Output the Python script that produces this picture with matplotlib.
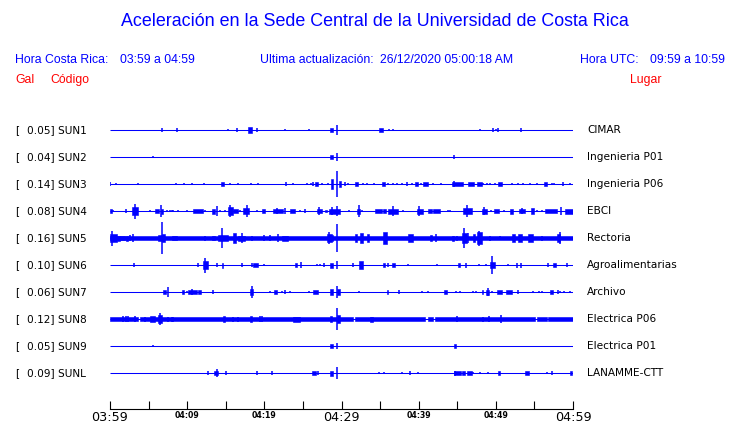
import matplotlib
matplotlib.use("Agg")
import matplotlib.pyplot as plt

# ---------------- data ----------------
codes = ["SUN1", "SUN2", "SUN3", "SUN4", "SUN5", "SUN6", "SUN7", "SUN8", "SUN9", "SUNL"]
gal = [0.05, 0.04, 0.14, 0.08, 0.16, 0.10, 0.06, 0.12, 0.05, 0.09]
places = ["CIMAR", "Ingenieria P01", "Ingenieria P06", "EBCI", "Rectoria",
          "Agroalimentarias", "Archivo", "Electrica P06", "Electrica P01", "LANAMME-CTT"]
tick_minutes = list(range(0, 61, 5))
tick_labels = ["03:59", "", "04:09", "", "04:19", "", "04:29", "", "04:39", "", "04:49", "", "04:59"]

# events: (start minute after 03:59, end minute, half amplitude); start == end -> single spike
sun1_events = [(6.78, 6.78, 1.3), (8.72, 8.72, 1.3), (15.25, 15.25, 0.8), (16.50, 16.50, 1.5),
               (17.92, 18.36, 2.5), (19.01, 19.01, 1.5), (22.72, 22.72, 1), (25.83, 25.83, 1),
               (28.51, 28.94, 1.5), (29.38, 29.38, 4), (34.86, 35.42, 1.5), (36.20, 36.20, 1),
               (36.71, 36.71, 1), (47.99, 47.99, 0.8), (49.67, 49.67, 1.3), (49.98, 49.98, 1),
               (50.32, 50.32, 1.5), (53.26, 53.26, 1.5)]
sun2_events = [(5.61, 5.61, 0.8), (28.51, 28.86, 1.3), (29.38, 29.38, 3), (44.62, 44.62, 1.3)]
sun3_events = [(0.0, 0.0, 1.5), (0.74, 0.74, 1), (3.67, 3.67, 0.8), (8.59, 8.59, 1), (9.55, 9.55, 1),
               (10.67, 10.67, 1), (12.22, 12.22, 1), (14.38, 14.73, 1.5), (15.59, 15.59, 1),
               (16.63, 16.63, 1), (18.27, 18.27, 1), (19.14, 19.14, 1), (22.81, 22.81, 1.5),
               (23.75, 23.75, 1), (25.49, 25.49, 1), (26.01, 26.01, 1), (26.27, 26.27, 1.5),
               (26.57, 26.99, 1.3), (27.43, 27.43, 1), (28.29, 28.29, 0.8), (28.60, 28.86, 4),
               (29.38, 29.38, 10.5), (29.64, 29.90, 2.5), (30.45, 30.45, 1.5), (30.88, 30.88, 1),
               (31.75, 32.18, 1.5), (32.75, 32.75, 1), (33.27, 33.27, 1), (34.21, 34.21, 1),
               (35.25, 35.68, 1.5), (36.07, 36.07, 1), (36.64, 36.64, 1), (37.15, 37.15, 1),
               (37.80, 37.80, 1), (38.45, 38.45, 1.5), (39.10, 39.10, 1), (39.53, 39.95, 1.5),
               (40.30, 40.30, 1), (40.60, 41.17, 1.5), (41.90, 41.90, 1), (42.90, 42.90, 1),
               (44.28, 45.78, 1.5), (44.62, 44.62, 2.5), (46.43, 47.21, 1.5), (47.52, 48.17, 1.5),
               (48.38, 48.38, 1), (48.82, 48.82, 1), (49.24, 49.24, 1), (49.89, 49.89, 1),
               (50.24, 50.84, 1.5), (52.06, 52.06, 0.8), (52.91, 52.91, 1), (53.56, 53.56, 1),
               (54.43, 54.43, 1), (55.30, 55.30, 1), (56.28, 56.59, 1.5), (57.24, 57.24, 1),
               (57.58, 57.58, 1), (58.74, 58.74, 1.5), (59.65, 59.65, 1)]
sun4_events = [(0.0, 0.22, 1.5), (0.43, 0.43, 1), (2.03, 2.03, 1.3), (2.89, 3.59, 3), (3.24, 3.24, 6),
               (5.18, 5.18, 1), (5.83, 6.35, 1.5), (6.61, 6.61, 5), (6.61, 6.91, 2), (7.35, 7.35, 1),
               (7.78, 7.78, 1), (8.00, 8.00, 1), (8.20, 8.20, 1), (8.77, 8.77, 1), (9.94, 9.94, 1),
               (10.80, 12.09, 1.5), (12.31, 12.31, 1), (13.18, 13.61, 2), (13.83, 13.83, 4),
               (14.26, 14.26, 1), (14.90, 14.90, 1), (15.25, 15.98, 3), (15.55, 15.55, 5),
               (15.98, 16.63, 1.5), (16.85, 16.85, 1), (17.27, 18.01, 2.5), (17.71, 17.71, 5),
               (19.01, 19.01, 1), (19.66, 20.09, 1.5), (21.16, 22.46, 1.5), (21.60, 21.60, 2.5),
               (22.68, 22.68, 2.5), (23.33, 23.97, 1.5), (24.62, 24.62, 1), (25.27, 25.27, 1.5),
               (26.79, 27.43, 1.5), (27.08, 27.08, 3), (27.86, 28.08, 1), (28.42, 29.81, 2),
               (28.77, 28.77, 3), (29.38, 29.38, 4), (31.01, 31.01, 1), (31.97, 32.40, 2),
               (32.31, 32.31, 5), (32.62, 32.62, 1), (34.34, 35.21, 1.5), (35.42, 35.77, 1.5),
               (36.07, 37.36, 2), (36.71, 36.71, 4), (38.01, 38.01, 1), (39.75, 40.60, 2),
               (40.04, 40.04, 4), (41.25, 41.77, 1.5), (41.90, 42.77, 1.5), (43.84, 43.84, 1),
               (44.06, 44.06, 1), (45.78, 46.87, 2.5), (46.23, 46.23, 5), (48.17, 48.82, 2),
               (48.47, 48.47, 3), (49.37, 49.37, 1), (49.80, 50.41, 1.5), (51.10, 51.10, 1),
               (51.84, 52.27, 2), (53.00, 53.78, 1.5), (53.39, 53.39, 2.5), (54.56, 54.91, 2.5),
               (55.30, 55.30, 1), (55.94, 55.94, 1), (56.37, 57.89, 1.5), (58.45, 58.45, 3),
               (58.97, 60.0, 2)]
sun5_events = [(0.0, 60.0, 1.8), (0.0, 0.87, 3.5), (0.30, 0.30, 6), (0.87, 1.30, 2), (1.30, 1.94, 1.5),
               (2.03, 2.37, 2), (2.59, 2.59, 2.5), (3.02, 3.02, 3.5), (6.26, 6.70, 2.5),
               (6.78, 6.78, 12.5), (6.78, 7.13, 3), (8.00, 8.64, 1.5), (12.31, 12.31, 2),
               (13.18, 13.61, 1.5), (14.03, 14.47, 2.5), (14.47, 14.47, 8), (14.55, 15.25, 2.5),
               (15.98, 16.28, 4), (16.59, 17.50, 2), (17.07, 17.07, 4), (18.36, 18.36, 2),
               (20.00, 20.00, 2.5), (20.70, 20.70, 2.5), (21.81, 21.81, 3.5), (22.25, 23.11, 2),
               (28.08, 28.73, 3.5), (28.38, 28.38, 5), (28.73, 28.90, 2.5), (29.38, 29.38, 11),
               (31.75, 32.05, 3), (32.40, 32.83, 4), (33.27, 33.60, 3.5), (35.42, 35.86, 4.5),
               (38.66, 39.23, 3.5), (41.47, 41.69, 2.5), (42.21, 42.21, 3.5), (44.28, 44.62, 2),
               (44.93, 44.93, 2), (45.58, 46.23, 4), (45.91, 45.91, 8), (46.40, 46.40, 4),
               (47.08, 47.30, 3), (47.52, 48.17, 4.5), (47.82, 47.82, 6), (49.28, 49.28, 2),
               (50.54, 50.54, 1.5), (52.06, 52.49, 3.5), (52.91, 53.35, 3), (54.21, 54.86, 3.5),
               (55.94, 55.94, 2), (57.89, 58.32, 3), (58.32, 58.32, 5)]
sun6_events = [(3.11, 3.11, 1.5), (11.37, 11.37, 1.5), (12.09, 12.74, 3), (12.31, 12.31, 6),
               (13.83, 13.83, 1.5), (14.47, 14.68, 2), (17.14, 17.14, 1.3), (18.36, 18.36, 1.5),
               (18.57, 19.14, 1.5), (20.00, 20.00, 1), (23.97, 24.19, 1.5), (24.71, 24.71, 2.5),
               (26.79, 26.79, 1), (27.21, 27.21, 1), (27.73, 27.73, 1.5), (28.51, 28.94, 2),
               (29.38, 29.38, 3.5), (31.53, 31.53, 1.5), (32.31, 32.75, 3), (35.42, 35.64, 1.3),
               (36.07, 36.07, 1.5), (36.51, 36.93, 1.3), (38.66, 38.66, 1), (42.34, 42.34, 1),
               (45.14, 45.36, 1.5), (46.10, 46.10, 2), (47.82, 47.82, 1), (48.69, 48.69, 1),
               (49.24, 49.89, 2.5), (49.46, 49.46, 7), (51.62, 51.62, 1), (52.70, 52.70, 2),
               (53.26, 53.26, 2), (56.72, 56.72, 1.5), (57.45, 57.76, 1.5), (59.18, 59.18, 1.5)]
sun7_events = [(6.91, 7.22, 1.5), (7.48, 7.48, 4), (9.29, 9.63, 1.5), (9.94, 9.94, 1),
               (10.15, 11.24, 1.5), (10.67, 10.67, 2.5), (11.44, 11.75, 1.5), (13.31, 13.31, 1.5),
               (18.14, 18.57, 2.5), (18.36, 18.36, 4.5), (20.73, 20.73, 1), (21.25, 21.60, 1.5),
               (22.25, 22.25, 1), (22.68, 22.68, 1.5), (23.33, 23.33, 1), (25.83, 25.83, 1),
               (26.35, 26.99, 1.5), (28.51, 28.94, 2.5), (29.38, 29.38, 5), (29.38, 29.81, 2.5),
               (32.31, 32.31, 1), (35.86, 36.07, 1.5), (37.49, 37.49, 1.5), (40.39, 40.39, 1),
               (41.25, 41.25, 1), (43.32, 43.63, 1.5), (44.80, 44.80, 1), (45.36, 45.36, 1),
               (47.08, 47.08, 1), (47.39, 47.39, 1), (48.17, 48.38, 1.5), (48.69, 49.12, 2),
               (48.95, 48.95, 3), (49.54, 49.54, 1), (50.11, 50.84, 1.5), (51.28, 52.14, 1.5),
               (52.83, 52.83, 1.5), (54.86, 54.86, 1), (55.59, 55.59, 1), (55.94, 55.94, 1),
               (57.02, 57.45, 1.5), (58.02, 58.02, 1.5), (58.32, 58.32, 1), (58.87, 58.87, 1),
               (59.61, 59.61, 1)]
sun8_events = [(0.0, 3.6, 1.7), (3.9, 31.5, 1.7), (31.75, 40.82, 1.7), (41.25, 41.9, 1.7),
               (42.12, 55.08, 1.7), (55.3, 56.59, 1.7), (56.8, 60.0, 1.7),
               (1.72, 1.72, 2.5), (2.03, 2.03, 2.5), (2.33, 2.33, 2.5), (3.24, 3.24, 2.5),
               (4.54, 4.54, 2), (5.18, 5.83, 2.5), (6.26, 6.78, 3.5), (6.52, 6.52, 4.5),
               (7.56, 7.56, 2), (8.00, 8.00, 2), (8.20, 8.20, 2), (14.68, 14.90, 2.5),
               (15.98, 15.98, 2), (16.63, 16.63, 2), (18.14, 18.44, 2.5), (19.44, 19.44, 2.5),
               (19.74, 19.74, 2.5), (23.75, 24.62, 2), (28.51, 28.73, 2.5), (29.38, 29.38, 8.5),
               (29.38, 29.81, 3.5), (33.70, 34.12, 2), (44.93, 44.93, 2.5), (48.38, 48.38, 2),
               (49.12, 49.12, 2.5), (50.67, 50.67, 3)]
sun9_events = [(5.61, 5.61, 0.8), (28.51, 28.94, 1.3), (29.38, 29.38, 2.5), (44.62, 44.80, 1.3)]
sunl_events = [(12.74, 12.74, 1.5), (13.51, 14.03, 1.5), (13.83, 13.83, 3), (14.99, 14.99, 1.5),
               (19.01, 19.01, 1.5), (20.96, 20.96, 1.5), (26.14, 26.70, 1.5), (26.99, 26.99, 1.5),
               (28.51, 28.94, 2), (29.38, 29.38, 5), (34.90, 34.90, 0.8), (35.51, 35.51, 1),
               (37.80, 37.80, 1), (38.88, 38.88, 1.5), (39.95, 39.95, 1), (44.62, 45.49, 1.5),
               (44.67, 44.67, 2), (45.65, 46.01, 1.5), (46.23, 46.87, 1.5), (47.08, 47.08, 1),
               (47.99, 47.99, 1), (49.02, 49.02, 1), (50.32, 50.54, 1.5), (53.78, 54.30, 1.5),
               (56.59, 56.59, 1), (57.24, 57.24, 1.3), (59.61, 59.83, 1.5)]

all_events = [sun1_events, sun2_events, sun3_events, sun4_events, sun5_events,
              sun6_events, sun7_events, sun8_events, sun9_events, sunl_events]

# ---------------- figure ----------------
W, H = 740, 423
BLUE = "#0000ff"
RED = "#ff0000"
GAIN = 1.25  # amplitude units -> screen pixels
fig = plt.figure(figsize=(W / 100, H / 100), dpi=100)
fig.patch.set_facecolor("white")


def fx(px):
    return px / W


def fy(py):
    return 1 - py / H


# traces axes: x from 110 to 573 px, y from 115 to 409 px (values in px units)
ax = fig.add_axes([fx(110), fy(409), (573 - 110) / W, (409 - 115) / H])
ax.set_xlim(0, 60)
ax.set_ylim(409, 115)
for s in ["top", "left", "right"]:
    ax.spines[s].set_visible(False)
ax.spines["bottom"].set_linewidth(0.8)
ax.set_yticks([])
ax.set_xticks(tick_minutes)
ax.set_xticklabels(tick_labels)
ax.tick_params(axis="x", direction="in", length=5.8, width=0.8, pad=1.5, colors="black")
for lbl in ax.get_xticklabels():
    txt = lbl.get_text()
    if txt in ("03:59", "04:29", "04:59"):
        lbl.set_fontsize(9.2)
        lbl.set_family("DejaVu Sans")
    else:
        lbl.set_fontsize(5.6)
        lbl.set_fontweight("bold")
        lbl.set_family("DejaVu Sans")

for i, ev in enumerate(all_events):
    yc = 130 + 27 * i
    ax.hlines(yc, 0, 60, color=BLUE, lw=0.75)
    for t0, t1, a in ev:
        h = a * GAIN
        if t1 > t0:
            ax.bar(t0, 2 * h, width=t1 - t0, bottom=yc - h, align="edge",
                   color=BLUE, linewidth=0.4, edgecolor=BLUE)
        else:
            ax.vlines(t0, yc - h, yc + h, color=BLUE, lw=1.1)

    fig.text(fx(15), fy(yc), "[", fontsize=7.6, family="DejaVu Sans", va="center", ha="left")
    fig.text(fx(27), fy(yc), f"{gal[i]:.2f}] {codes[i]}", fontsize=7.6,
             family="DejaVu Sans", va="center", ha="left")
    fig.text(fx(587), fy(yc), places[i], fontsize=7.6, family="DejaVu Sans",
             va="center", ha="left")

# header texts
sans = "Liberation Sans"
fig.text(fx(375), fy(22), "Aceleración en la Sede Central de la Universidad de Costa Rica",
         fontsize=12.9, family=sans, color=BLUE, ha="center", va="center")
hs = 8.8
fig.text(fx(15), fy(60), "Hora Costa Rica:", fontsize=hs, family=sans, color=BLUE, va="center")
fig.text(fx(120), fy(60), "03:59 a 04:59", fontsize=hs, family=sans, color=BLUE, va="center")
fig.text(fx(260), fy(60), "Ultima actualización:", fontsize=hs, family=sans, color=BLUE, va="center")
fig.text(fx(380), fy(60), "26/12/2020 05:00:18 AM", fontsize=hs, family=sans, color=BLUE, va="center")
fig.text(fx(580), fy(60), "Hora UTC:", fontsize=hs, family=sans, color=BLUE, va="center")
fig.text(fx(650), fy(60), "09:59 a 10:59", fontsize=hs, family=sans, color=BLUE, va="center")
fig.text(fx(15), fy(80), "Gal", fontsize=hs, family=sans, color=RED, va="center")
fig.text(fx(50), fy(80), "Código", fontsize=hs, family=sans, color=RED, va="center")
fig.text(fx(630), fy(80), "Lugar", fontsize=hs, family=sans, color=RED, va="center")

fig.savefig("out.png", dpi=100, facecolor="white")
